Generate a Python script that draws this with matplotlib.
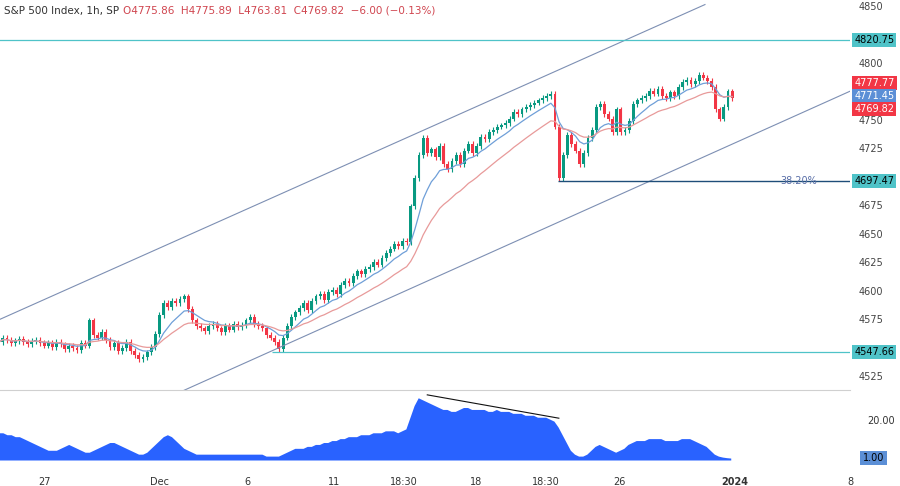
import numpy as np
import pandas as pd
import matplotlib
matplotlib.use("Agg")
import matplotlib.pyplot as plt

# hourly closes, 7 bars per trading day; first 11 bars precede Nov 27
PRE = [4556, 4560, 4558, 4555, 4557, 4559, 4556, 4554, 4557, 4558, 4555]
DAYS = [
    ("27", [4553, 4555, 4552, 4556, 4554, 4550, 4553]),
    ("28", [4551, 4549, 4555, 4553, 4575, 4562, 4560]),
    ("29", [4565, 4558, 4552, 4555, 4548, 4551, 4556]),
    ("30", [4548, 4545, 4541, 4543, 4547, 4552, 4563]),
    ("Dec", [4580, 4590, 4587, 4592, 4590, 4594, 4596]),
    ("4", [4585, 4575, 4570, 4568, 4566, 4570, 4572]),
    ("5", [4568, 4565, 4570, 4567, 4572, 4569, 4571]),
    ("6", [4575, 4578, 4572, 4570, 4568, 4562, 4560]),
    ("7", [4556, 4550, 4560, 4570, 4578, 4582, 4586]),
    ("8", [4590, 4584, 4592, 4596, 4598, 4593, 4600]),
    ("11", [4602, 4598, 4606, 4610, 4608, 4614, 4618]),
    ("12", [4616, 4620, 4622, 4626, 4624, 4630, 4634]),
    ("13", [4638, 4642, 4640, 4645, 4644, 4675, 4700]),
    ("14", [4720, 4735, 4722, 4725, 4718, 4728, 4712]),
    ("15", [4708, 4715, 4720, 4712, 4724, 4730, 4722]),
    ("18", [4728, 4736, 4734, 4740, 4742, 4745, 4746]),
    ("19", [4748, 4752, 4758, 4756, 4760, 4762, 4764]),
    ("20", [4766, 4768, 4770, 4772, 4774, 4745, 4700]),
    ("21", [4720, 4738, 4730, 4724, 4712, 4722, 4735]),
    ("22", [4742, 4762, 4765, 4756, 4752, 4740, 4760]),
    ("26", [4740, 4742, 4750, 4765, 4768, 4770, 4772]),
    ("27b", [4776, 4774, 4778, 4772, 4770, 4775, 4772]),
    ("28b", [4780, 4784, 4786, 4782, 4785, 4790, 4788]),
    ("29b", [4785, 4780, 4760, 4752, 4762, 4775.86, 4769.82]),
]
IND_PRE = [14, 14, 13, 13, 12, 12, 11, 10, 9, 8, 7]
IND_DAYS = [
    [6, 5, 5, 5, 6, 7, 8], [7, 6, 5, 4, 4, 5, 6], [7, 8, 9, 9, 8, 7, 6],
    [5, 4, 3, 3, 4, 6, 8], [10, 12, 13, 12, 10, 8, 6], [5, 4, 3, 3, 3, 3, 3],
    [3, 3, 3, 3, 3, 3, 3], [3, 3, 3, 3, 3, 2, 2], [2, 2, 3, 4, 5, 6, 6],
    [6, 7, 7, 8, 8, 9, 9], [10, 10, 11, 11, 12, 12, 12], [13, 13, 13, 14, 14, 14, 15],
    [15, 15, 14, 15, 16, 22, 28], [32, 31, 30, 29, 28, 27, 26], [26, 25, 25, 26, 27, 27, 26],
    [26, 26, 26, 25, 25, 26, 25], [25, 25, 24, 24, 24, 23, 23], [23, 22, 22, 22, 21, 20, 17],
    [13, 9, 5, 3, 2, 2, 3], [5, 7, 8, 7, 6, 5, 4], [5, 6, 8, 9, 10, 10, 10],
    [11, 11, 11, 11, 10, 10, 10], [10, 11, 11, 11, 10, 9, 8], [7, 5, 3, 2, 1.5, 1.2, 1.0],
]
X_TICKS = [(0, "27"), (28, "Dec"), (49.5, "6"), (70.5, "11"), (87.5, "18:30"),
           (105, "18"), (122, "18:30"), (140, "26"), (168, "2024"), (196, "8")]
Y_TICKS = [4525, 4575, 4600, 4625, 4650, 4675, 4725, 4750, 4800, 4850]
LEVELS = {"res": 4820.75, "fib": 4697.47, "sup": 4547.66}

GREEN = "#089981"
RED = "#f23645"

closes = np.array(PRE + [c for _, d in DAYS for c in d], dtype=float)
idx = np.arange(len(closes)) - len(PRE)
opens = np.r_[closes[0], closes[:-1]]
ind = np.array(IND_PRE + [v for d in IND_DAYS for v in d], dtype=float)

fig = plt.figure(figsize=(9, 4.86), dpi=100)
ax = fig.add_axes([0, 1 - 390 / 486, 850 / 900, 390 / 486])
ax2 = fig.add_axes([0, 26 / 486, 850 / 900, 70 / 486])
xl = (-10.7, 195.6)

for i, o, c in zip(idx, opens, closes):
    col = GREEN if c >= o else RED
    ax.vlines(i, min(o, c) - 2.5, max(o, c) + 2.5, color=col, lw=0.8)
    ax.bar(i, max(abs(c - o), 0.6), bottom=min(o, c), width=0.7, color=col)

s = pd.Series(closes)
ax.plot(idx, s.ewm(span=9).mean(), color="#6f9fd8", lw=0.9)
ax.plot(idx, s.ewm(span=21).mean(), color="#e89a9a", lw=0.9)

# channel
ax.plot([-10.7, 160.4], [4576, 4852], color="#7d8fb3", lw=0.8)
ax.plot([32.9, 195.6], [4512, 4776], color="#7d8fb3", lw=0.8)
ax.axhline(LEVELS["res"], color="#4fc3c8", lw=0.9)
ax.hlines(LEVELS["sup"], 55.3, 196, color="#4fc3c8", lw=0.9)
ax.hlines(LEVELS["fib"], 124.7, 196, color="#1f4e79", lw=1.0)
ax.text(187.5, LEVELS["fib"], "38.20%", color="#5a6fa8", fontsize=7, va="center", ha="right")

ax.set_xlim(*xl)
ax.set_ylim(4514, 4856)
ax.set_xticks([])
ax.set_yticks([])
for sp in ax.spines.values():
    sp.set_visible(False)

ax.text(0.005, 0.985, "S&P 500 Index, 1h, SP  ", transform=ax.transAxes,
        fontsize=7.5, color="#333333", va="top")
ax.text(0.145, 0.985, "O4775.86  H4775.89  L4763.81  C4769.82  −6.00 (−0.13%)",
        transform=ax.transAxes, fontsize=7.5, color="#d0454f", va="top")

# right price scale
for p in Y_TICKS:
    ax.text(1.01, p, str(p), transform=ax.get_yaxis_transform(), fontsize=7,
            color="#444444", va="center")
tags = [(LEVELS["res"], "#4fc3c8", "#000000"), (4777.77, RED, "white"),
        (4771.45, "#5b8fd6", "white"), (4769.82, RED, "white"),
        (LEVELS["fib"], "#4fc3c8", "#000000"), (LEVELS["sup"], "#4fc3c8", "#000000")]
ys = {4777.77: 4783.5, 4771.45: 4772.0, 4769.82: 4760.5}
for v, bg, fg in tags:
    ax.text(1.005, ys.get(v, v), f"{v:.2f}", transform=ax.get_yaxis_transform(),
            fontsize=7, color=fg, va="center", clip_on=False,
            bbox=dict(boxstyle="square,pad=0.2", fc=bg, ec="none"))

# indicator pane
ax2.fill_between(idx, 0, ind, color="#2962ff", lw=0)
ax2.plot([93.2, 125.2], [33.5, 21.5], color="#111111", lw=0.8)
ax2.set_xlim(*xl)
ax2.set_ylim(0, 36)
ax2.set_yticks([])
for sp in ax2.spines.values():
    sp.set_visible(False)
ax2.axhline(36, color="#d0d0d0", lw=0.8, clip_on=False)
ax2.text(1.02, 20, "20.00", transform=ax2.get_yaxis_transform(), fontsize=7,
         color="#333333", va="center")
ax2.text(1.015, 1.0, "1.00", transform=ax2.get_yaxis_transform(), fontsize=7,
         color="#000000", va="center", clip_on=False,
         bbox=dict(boxstyle="square,pad=0.25", fc="#5b8fd6", ec="none"))
ax2.set_xticks([t for t, _ in X_TICKS])
ax2.set_xticklabels([l for _, l in X_TICKS], fontsize=7, color="#333333")
ax2.tick_params(axis="x", length=0, pad=12)
for lab in ax2.get_xticklabels():
    if lab.get_text() == "2024":
        lab.set_fontweight("bold")

fig.savefig("out.png", dpi=100, facecolor="white")
